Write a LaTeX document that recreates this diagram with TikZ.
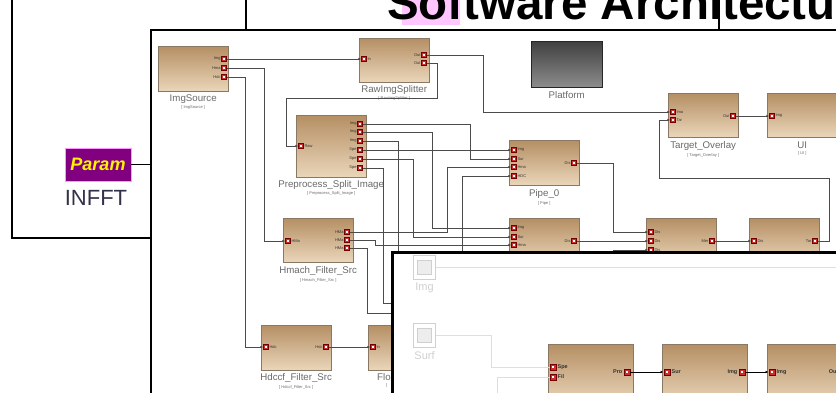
\documentclass[tikz,border=0pt]{standalone}
\usepackage{fontspec}
\setmainfont{Liberation Sans}
\usetikzlibrary{positioning,arrows.meta}
\definecolor{tanA}{RGB}{181,143,100}
\definecolor{tanB}{RGB}{234,214,186}
\definecolor{boxedge}{RGB}{138,120,100}
\definecolor{portred}{RGB}{205,45,45}
\definecolor{wiregray}{RGB}{75,75,75}
\definecolor{labgray}{RGB}{105,105,105}
\definecolor{paramfill}{RGB}{128,0,128}
\definecolor{paramedge}{RGB}{255,150,255}
\definecolor{titlepink}{RGB}{255,198,255}
\definecolor{fadegray}{RGB}{208,208,208}
\definecolor{infftcol}{RGB}{50,50,75}

\begin{document}
\begin{tikzpicture}[
  x=1pt,y=-1pt,
  blk/.style={draw=boxedge,top color=tanA,bottom color=tanB,minimum width=70pt,minimum height=45pt,inner sep=0pt,anchor=north west},
  port/.style={draw=red!45!black,fill=portred,minimum size=5pt,inner sep=0pt,
    path picture={\fill[white] ([shift={(-1pt,-1pt)}]path picture bounding box.center) rectangle ++(2pt,2pt);}},
  bigport/.style={port,minimum size=6.5pt},
  plab/.style={font=\fontsize{4}{4}\selectfont,inner sep=0.6pt,text=black!80},
  bplab/.style={font=\fontsize{5.5}{5.5}\selectfont\bfseries,inner sep=1pt,text=black!80},
  blab/.style={font=\fontsize{9.7}{10}\selectfont,text=labgray,inner sep=0pt},
  slab/.style={font=\fontsize{4}{4}\selectfont,text=labgray,inner sep=0pt},
  wire/.style={draw=wiregray,line width=0.6pt},
  ar/.style={wire,-{Latex[length=3pt,width=2.6pt]}},
  fade/.style={draw=fadegray!70,line width=0.8pt},
  frm/.style={line width=2.7pt,black},
  icn/.style={draw=fadegray,line width=0.9pt,fill=white,minimum width=22pt,minimum height=24pt,inner sep=0pt,
    path picture={\draw[fadegray,fill=black!7] ([shift={(-7pt,-7pt)}]path picture bounding box.center) rectangle ++(14pt,14pt);}},
  flab/.style={font=\fontsize{11}{11}\selectfont,text=fadegray,inner sep=0pt},
]
\useasboundingbox (0,0) rectangle (836,393);
\clip (0,0) rectangle (836,393);

% title and frames
\fill[titlepink] (402,0) rectangle (460,25);
\node[anchor=base west,inner sep=0pt,font=\fontsize{47.5}{50}\selectfont\bfseries] (title) at (387,20) {Software Architecture};
\draw[frm] (12,-3) -- (12,238) -- (151,238);
\draw[line width=1.7pt] (246,-3) -- (246,30);
\draw[line width=2pt] (719,-3) -- (719,30);
\draw[frm] (151,396) -- (151,30) -- (840,30);

% parameter
\node[draw=paramedge,fill=paramfill,minimum width=66pt,minimum height=33pt,inner sep=0pt,
  font=\fontsize{18}{18}\selectfont\bfseries\itshape,text=yellow] (param) at (98,164.5) {Param};
\node[anchor=base,inner sep=0pt,font=\fontsize{22}{22}\selectfont,text=infftcol] (infft) at (96,205) {INFFT};
\coordinate (pin) at (151,164.5);
\draw[line width=1.2pt] (param) -- (pin);

% blocks
\node[blk] (imgsrc) at (158,46) {};
\node[blk,minimum height=44pt] (rawsplit) at (359,38) {};
\node[blk,minimum width=71pt,minimum height=46pt,draw=black!85,top color=black!75,bottom color=black!45] (platform) at (531,41) {};
\node[blk,minimum height=44pt] (tgtover) at (668,93) {};
\node[blk,minimum height=44pt] (ui) at (767,93) {};
\node[blk,minimum height=62pt] (prepro) at (296,115) {};
\node[blk] (pipe0) at (509,140) {};
\node[blk] (pipe1) at (509,218) {};
\node[blk] (merge) at (646,218) {};
\node[blk] (trk) at (749,218) {};
\node[blk,minimum height=44pt] (hmach) at (283,218) {};
\node[blk] (hdccf) at (261,325) {};
\node[blk] (flo) at (368,325) {};

\node[blab,below=3pt of imgsrc] (imgsrc-l) {ImgSource};
\node[slab,below=2pt of imgsrc-l] {[ ImgSource ]};
\node[blab,below=3pt of rawsplit] (rawsplit-l) {RawImgSplitter};
\node[slab,below=2pt of rawsplit-l] {[ RawImgSplitter ]};
\node[blab,below=4pt of platform] {Platform};
\node[blab,below=4pt of tgtover] (tgtover-l) {Target\_Overlay};
\node[slab,below=2.5pt of tgtover-l] {[ Target\_Overlay ]};
\node[blab,below=4pt of ui] (ui-l) {UI};
\node[slab,below=2.5pt of ui-l] {[ UI ]};
\node[blab,below=3pt of prepro] (prepro-l) {Preprocess\_Split\_Image};
\node[slab,below=2pt of prepro-l] {[ Preprocess\_Split\_Image ]};
\node[blab,below=4pt of pipe0] (pipe0-l) {Pipe\_0};
\node[slab,below=2.5pt of pipe0-l] {[ Pipe ]};
\node[blab,below=4pt of hmach] (hmach-l) {Hmach\_Filter\_Src};
\node[slab,below=2.5pt of hmach-l] {[ Hmach\_Filter\_Src ]};
\node[blab,below=3pt of hdccf] (hdccf-l) {Hdccf\_Filter\_Src};
\node[slab,below=2.5pt of hdccf-l] {[ Hdccf\_Filter\_Src ]};
\node[blab,anchor=north west] (flo-l) at (377,373) {Flo};
\node[slab,anchor=north west] at (386,383) {[};

% ports
\foreach \y/\t [count=\i] in {59/Img,68/Hma,77/Hdc}{
  \node[port] (imgsrc-o\i) at (224,\y) {};
  \node[plab,left=0pt of imgsrc-o\i] {\t};
}
\node[port] (rawsplit-i1) at (364,59) {};
\node[plab,right=0pt of rawsplit-i1] {In};
\foreach \y [count=\i] in {55,63}{
  \node[port] (rawsplit-o\i) at (424,\y) {};
  \node[plab,left=0pt of rawsplit-o\i] {Out};
}
\foreach \y/\t [count=\i] in {112/Ima,120/Tar}{
  \node[port] (tgtover-i\i) at (673,\y) {};
  \node[plab,right=0pt of tgtover-i\i] {\t};
}
\node[port] (tgtover-o1) at (733,116) {};
\node[plab,left=0pt of tgtover-o1] {Out};
\node[port] (ui-i1) at (772,116) {};
\node[plab,right=0pt of ui-i1] {Img};
\node[port] (prepro-i1) at (301,146) {};
\node[plab,right=0pt of prepro-i1] {Raw};
\foreach \y/\t [count=\i] in {124/Img,132/Img,141/Img,150/Spe,159/Spe,168/Spe}{
  \node[port] (prepro-o\i) at (360,\y) {};
  \node[plab,left=0pt of prepro-o\i] {\t};
}
\foreach \y/\t [count=\i] in {150/Img,159/Sur,167/Hma,176/HDC}{
  \node[port] (pipe0-i\i) at (514,\y) {};
  \node[plab,right=0pt of pipe0-i\i] {\t};
}
\node[port] (pipe0-o1) at (574,163) {};
\node[plab,left=0pt of pipe0-o1] {Dis};
\foreach \y/\t [count=\i] in {228/Img,237/Sur,245/Hma,254/HDC}{
  \node[port] (pipe1-i\i) at (514,\y) {};
  \node[plab,right=0pt of pipe1-i\i] {\t};
}
\node[port] (pipe1-o1) at (574,241) {};
\node[plab,left=0pt of pipe1-o1] {Dis};
\foreach \y [count=\i] in {232,241,250}{
  \node[port] (merge-i\i) at (651,\y) {};
  \node[plab,right=0pt of merge-i\i] {Dis};
}
\node[port] (merge-o1) at (712,241) {};
\node[plab,left=0pt of merge-o1] {Mer};
\node[port] (trk-i1) at (754,241) {};
\node[plab,right=0pt of trk-i1] {Dis};
\node[port] (trk-o1) at (815,241) {};
\node[plab,left=0pt of trk-o1] {Tar};
\node[port] (hmach-i1) at (288,241) {};
\node[plab,right=0pt of hmach-i1] {HMa};
\foreach \y [count=\i] in {232,240,248}{
  \node[port] (hmach-o\i) at (347,\y) {};
  \node[plab,left=0pt of hmach-o\i] {HMa};
}
\node[port] (hdccf-i1) at (266,347) {};
\node[plab,right=0pt of hdccf-i1] {Hdc};
\node[port] (hdccf-o1) at (326,347) {};
\node[plab,left=0pt of hdccf-o1] {Hdc};
\node[port] (flo-i1) at (373,347) {};
\node[plab,right=0pt of flo-i1] {In};

% wires
\coordinate (hid1) at (398,300);
\coordinate (hid2) at (398,303);
\coordinate (hid3) at (398,313);
\coordinate (hid4) at (462,300);
\coordinate (hid5) at (613,300);
\draw[ar] (imgsrc-o1) -- (rawsplit-i1);
\draw[ar] (imgsrc-o2) -| (264,241) -- (hmach-i1);
\draw[ar] (imgsrc-o3) -| (245,347) -- (hdccf-i1);
\draw[ar] (rawsplit-o1) -| (483,112) -- (tgtover-i1);
\draw[ar] (rawsplit-o2) -| (437,98) -| (286,146) -- (prepro-i1);
\draw[ar] (tgtover-o1) -- (ui-i1);
\draw[ar] (prepro-o1) -| (470,159) -- (pipe0-i2);
\draw[ar] (prepro-o4) -- (pipe0-i1);
\draw[ar] (prepro-o2) -| (432,228) -- (pipe1-i1);
\draw[ar] (prepro-o5) -| (413,237) -- (pipe1-i2);
\draw[wire] (prepro-o3) -| (hid1);
\draw[wire] (prepro-o6) -| (383,303) -- (hid2);
\draw[ar] (hmach-o1) -| (447,167) -- (pipe0-i3);
\draw[ar] (hmach-o2) -| (375,245) -- (pipe1-i3);
\draw[wire] (hmach-o3) -| (367,313) -- (hid3);
\draw[ar] (hid4) |- (pipe0-i4);
\draw[ar] (hdccf-o1) -- (flo-i1);
\draw[ar] (pipe0-o1) -| (613,232) -- (merge-i1);
\draw[ar] (pipe1-o1) -- (merge-i2);
\draw[ar] (hid5) |- (merge-i3);
\draw[ar] (merge-o1) -- (trk-i1);
\draw[ar] (trk-o1) -| (829,178) -| (659,120) -- (tgtover-i2);

% overlay window
\node[draw=black,line width=2.7pt,fill=white,anchor=north west,minimum width=470pt,minimum height=160pt] (ovl) at (391,251) {};
\node[icn] (icimg) at (424.5,267.5) {};
\node[flab,below=3pt of icimg] {Img};
\node[icn] (icsurf) at (424.5,335.5) {};
\node[flab,below=3pt of icsurf] {Surf};
\node[blk,minimum width=85pt,minimum height=60pt] (ovA) at (548,344) {};
\node[blk,minimum width=85pt,minimum height=60pt] (ovB) at (662,344) {};
\node[blk,minimum width=85pt,minimum height=60pt] (ovC) at (767,344) {};
\foreach \y/\t [count=\i] in {367/Spe,377/Fil}{
  \node[bigport] (ovA-i\i) at (553,\y) {};
  \node[bplab,right=0pt of ovA-i\i] {\t};
}
\node[bigport] (ovA-o1) at (627,372) {};
\node[bplab,left=0pt of ovA-o1] {Pro};
\node[bigport] (ovB-i1) at (667,372) {};
\node[bplab,right=0pt of ovB-i1] {Sur};
\node[bigport] (ovB-o1) at (742,372) {};
\node[bplab,left=0pt of ovB-o1] {Img};
\node[bigport] (ovC-i1) at (772,372) {};
\node[bplab,right=0pt of ovC-i1] {Img};
\node[bigport] (ovC-o1) at (843,372) {};
\node[bplab,left=0pt of ovC-o1] {Out};
\coordinate (imgout) at (840,267.5);
\coordinate (filsrc) at (497,400);
\draw[fade] (icimg) -- (imgout);
\draw[fade] (icsurf) -- (491,335.5) |- (ovA-i1);
\draw[fade] (filsrc) |- (ovA-i2);
\draw[ar,draw=black] (ovA-o1) -- (ovB-i1);
\draw[ar,draw=black] (ovB-o1) -- (ovC-i1);
\end{tikzpicture}
\end{document}
